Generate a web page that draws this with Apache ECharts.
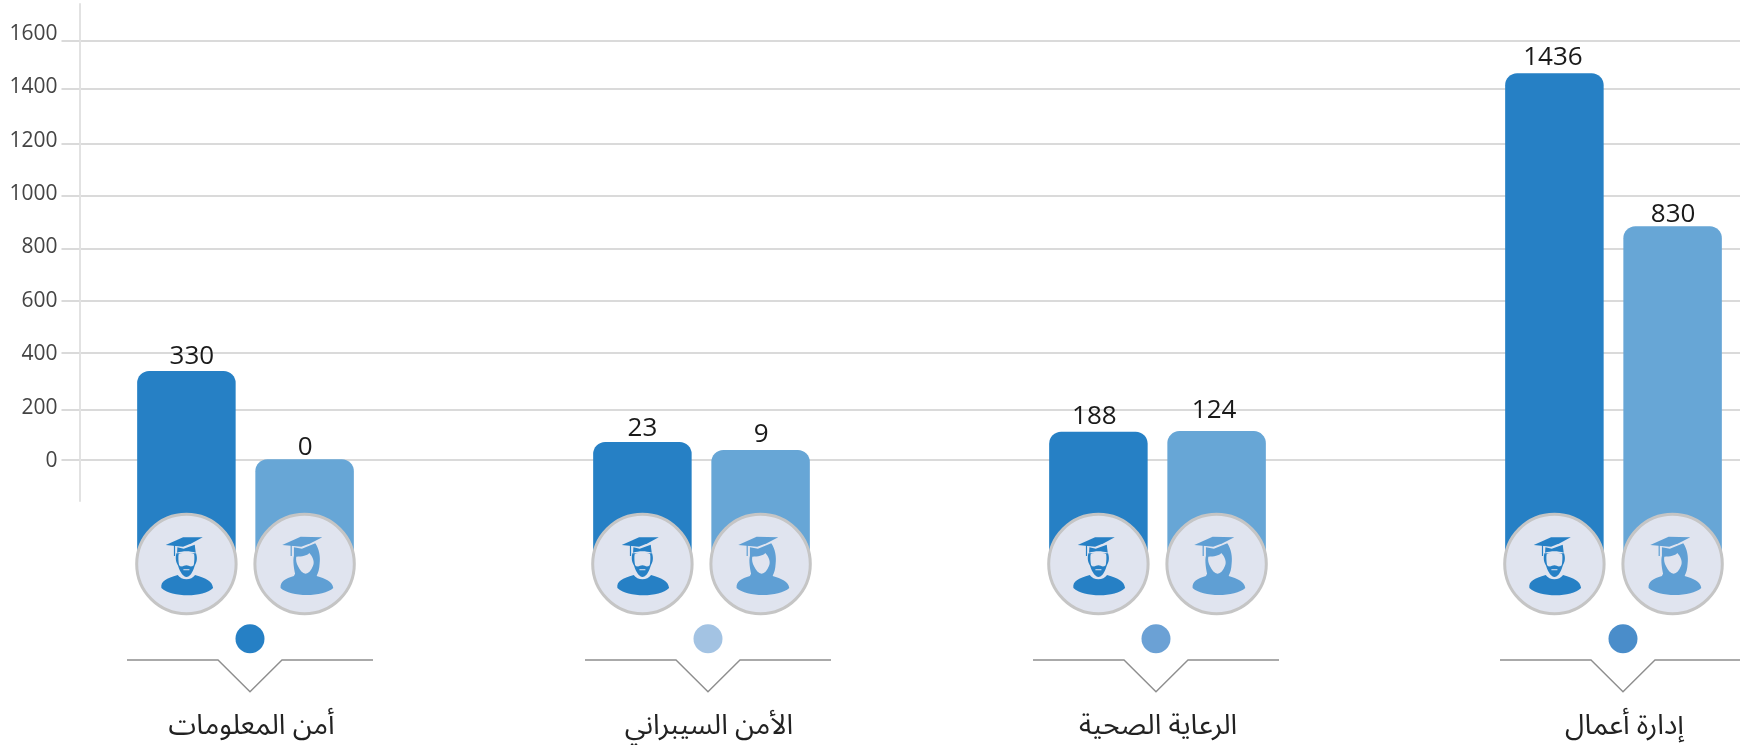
<!DOCTYPE html>
<html>
<head>
<meta charset="utf-8">
<style>html,body{margin:0;padding:0;background:#fff}#c{width:1740px;height:745px}</style>
<script src="https://cdn.jsdelivr.net/npm/echarts@6/dist/echarts.min.js"></script>
</head>
<body>
<div id="c"></div>
<script>
// ---- values ----
const categories = ['أمن المعلومات', 'الأمن السيبراني', 'الرعاية الصحية', 'إدارة أعمال'];
const maleValues = [330, 23, 188, 1436];
const femaleValues = [0, 9, 124, 830];
// The source graphic is not drawn to scale: heights of the bars as they stand against the axis
const maleDrawn = [337, 71, 110, 1453];
const femaleDrawn = [7, 41, 112, 880];
const tickLabels = [0, 200, 400, 600, 800, 1000, 1200, 1400, 1600];
// The gridlines in the source sit slightly off their labels
const gridLevels = [5, 191, 407, 600, 796, 994, 1189, 1394, 1573];
// ---- styling ----
// Bars rise from behind the badges, this far below the axis zero
const stemDepth = 386;
const maleColor = '#2680C5', femaleColor = '#67A6D6', femaleIcon = '#5F9FD4', faceColor = '#E0E4EF';
const dotColors = ['#2680C5', '#A3C3E3', '#6BA1D5', '#4A8DCA'];
const footerNudge = [4.5, 6.5, -1.5, 9.5];
const captionNudge = [6, 7.5, 0.5, 11];
const maleLabelGap = [1.5, 0.5, 2, 2.8], femaleLabelGap = [-1.5, 2.5, 8, -1.5];
const maleLabelDx = [5.5, 0, -4, -1.5], femaleLabelDx = [0.5, 0.5, -2.5, 0.5];
const yMax = 1712.4, gridMin = -149.9, barMin = -895.5;
const sideOffset = 59.1;

const capMale = 'M-62,-57 L-10,-80 L49,-80 L16,-62 L-10,-52 Z';
const underMale = 'M-27,-50 L-8,-46 L25,-58 L28,-34 C10,-40 -10,-40 -28,-34 Z';
const headMale = 'M-30,-32 C-34,-15 -31,-5 -25,5 C-18,28 -8,38 0,39 C10,38 18,28 25,5 C31,-5 34,-15 29,-32 Z';
const faceMale = 'M-23,-30 C-10,-36 10,-36 23,-30 C25,-22 24,-8 22,4 C13,12 8,4 0,4 C-8,4 -13,12 -22,4 C-24,-8 -25,-22 -23,-30 Z';
const bodyMale = 'M-75,72 C-78,52 -60,43 -26,33 C-15,50 15,50 26,33 C60,43 78,52 80,72 C50,102 -45,100 -75,72 Z';
const capFemale = 'M-67,-57 L-12,-82 L53,-80 L18,-62 L-10,-52 Z';
const hairFemale = 'M-32,-50 L-8,-46 L32,-62 C44,-45 48,-20 45,0 C44,15 42,25 34,40 L-26,40 C-32,15 -36,-10 -32,-25 Z';
const faceFemale = 'M-25,-22 C-8,-22 8,-25 14,-33 C25,-22 31,-5 25,6 C20,20 12,28 3,29 C-6,28 -14,20 -20,6 C-24,-2 -27,-12 -25,-22 Z';
const bodyFemale = 'M-72,72 C-74,52 -58,44 -32,36 L-25,22 C-10,36 20,36 30,22 L36,36 C62,44 84,52 86,72 C55,100 -42,100 -72,72 Z';

function parseSeg(d) {
  const t = d.match(/[MLCZ]|-?[\d.]+/g);
  return function (ctx) {
    let i = 0, c = '';
    while (i < t.length) {
      if (/[MLCZ]/.test(t[i])) c = t[i++];
      if (c === 'M') { ctx.moveTo(+t[i], +t[i + 1]); i += 2; }
      else if (c === 'L') { ctx.lineTo(+t[i], +t[i + 1]); i += 2; }
      else if (c === 'C') { ctx.bezierCurveTo(+t[i], +t[i + 1], +t[i + 2], +t[i + 3], +t[i + 4], +t[i + 5]); i += 6; }
      else if (c === 'Z') { ctx.closePath(); }
    }
  };
}
echarts.graphic.registerShape('iconPath', echarts.graphic.extendShape({
  shape: { d: '' },
  buildPath: function (ctx, shape) { parseSeg(shape.d)(ctx); }
}));
function icon(d, fill, cx, cy) {
  return { type: 'iconPath', x: cx, y: cy, scaleX: 1 / 3, scaleY: 1 / 3, shape: { d: d }, style: { fill: fill } };
}
function badge(cx, cy, isMale) {
  const col = isMale ? maleColor : femaleIcon;
  const kids = [{ type: 'circle', shape: { cx: cx, cy: cy, r: 49.7 }, style: { fill: faceColor, stroke: '#C5C5C5', lineWidth: 3 } }];
  if (isMale) {
    kids.push(icon(bodyMale, col, cx, cy), icon(headMale, col, cx, cy), icon(faceMale, faceColor, cx, cy),
      icon(underMale, col, cx, cy), icon(capMale, col, cx, cy));
    kids.push({ type: 'rect', shape: { x: cx - 12.5, y: cy - 19, width: 1.2, height: 11 }, style: { fill: col } });
    kids.push({ type: 'rect', shape: { x: cx - 3, y: cy + 5.2, width: 6, height: 1 }, style: { fill: faceColor } });
  } else {
    kids.push(icon(bodyFemale, col, cx, cy), icon(hairFemale, col, cx, cy), icon(faceFemale, faceColor, cx, cy), icon(capFemale, col, cx, cy));
    kids.push({ type: 'rect', shape: { x: cx - 14, y: cy - 19, width: 1.2, height: 11 }, style: { fill: col } });
  }
  return kids;
}

function barData(drawn, gaps, dxs) {
  return drawn.map((v, i) => ({ value: v + stemDepth, label: { distance: gaps[i], offset: [dxs[i], 0] } }));
}
function labelOf(list) {
  return {
    show: true, position: 'top', color: '#1a1a1a', fontSize: 26, fontWeight: 500, fontFamily: '"Open Sans"',
    formatter: p => String(list[p.dataIndex])
  };
}

const option = {
  backgroundColor: '#fff',
  animation: false,
  grid: [
    { left: 79.5, right: 0, top: 4, height: 497, outerBoundsMode: 'none' },
    { left: 17.5, width: 1824, top: 4, height: 696, outerBoundsMode: 'none' }
  ],
  xAxis: [
    { type: 'category', gridIndex: 0, show: false, data: categories },
    {
      type: 'category', gridIndex: 1, data: categories.map((c, i) => ({
        value: c, textStyle: { padding: [0, 0, 0, 2 * captionNudge[i]] }
      })),
      axisLine: { show: false }, axisTick: { show: false },
      axisLabel: { interval: 0, margin: 16, color: '#222', fontSize: 28, fontFamily: '"Noto Sans Arabic","Noto Sans","DejaVu Sans"' }
    }
  ],
  yAxis: [
    {
      type: 'value', gridIndex: 0, min: gridMin, max: yMax,
      axisLine: { show: true, lineStyle: { color: '#E2E2E2', width: 2 } },
      axisTick: { show: true, length: 18, customValues: gridLevels, lineStyle: { color: '#DADADA', width: 2 } },
      axisLabel: { customValues: tickLabels, margin: 22, color: '#444', fontSize: 21, fontWeight: 400, fontFamily: '"Open Sans"', formatter: v => String(v) },
      splitLine: { show: true, lineStyle: { color: '#DADADA', width: 2 } }
    },
    { type: 'value', gridIndex: 1, min: barMin + stemDepth, max: yMax + stemDepth, show: false, splitLine: { show: false } }
  ],
  series: [
    { name: 'ذكور', type: 'bar', xAxisIndex: 1, yAxisIndex: 1, barWidth: 98.5, barGap: '20%', z: 3,
      data: barData(maleDrawn, maleLabelGap, maleLabelDx), label: labelOf(maleValues),
      itemStyle: { color: maleColor, borderRadius: [12, 12, 0, 0] } },
    { name: 'إناث', type: 'bar', xAxisIndex: 1, yAxisIndex: 1, barWidth: 98.5, barGap: '20%', z: 3,
      data: barData(femaleDrawn, femaleLabelGap, femaleLabelDx), label: labelOf(femaleValues),
      itemStyle: { color: femaleColor, borderRadius: [12, 12, 0, 0] } },
    {
      type: 'custom', xAxisIndex: 1, yAxisIndex: 1, z: 5, silent: true, clip: false,
      data: categories.map((c, i) => [i, 0]),
      encode: { x: 0, y: 1 },
      renderItem: function (params, api) {
        const i = api.value(0);
        const p = api.coord([i, api.value(1)]);
        const fx = p[0] + footerNudge[i];
        const ny = p[1] + 96, ay = p[1] + 127.7;
        return {
          type: 'group', children: [].concat(
            badge(p[0] - sideOffset, p[1], true),
            badge(p[0] + sideOffset, p[1], false),
            [
              { type: 'circle', shape: { cx: fx, cy: p[1] + 74.7, r: 14.5 }, style: { fill: dotColors[i] } },
              { type: 'polyline', shape: { points: [[fx - 123, ny], [fx - 32, ny], [fx, ay], [fx + 32, ny], [fx + 123, ny]] },
                style: { fill: 'none', stroke: '#8E8E8E', lineWidth: 1.4 } }
            ])
        };
      }
    }
  ]
};
const chart = echarts.init(document.getElementById('c'), null, { renderer: 'canvas' });
chart.setOption(option);
</script>
</body>
</html>
